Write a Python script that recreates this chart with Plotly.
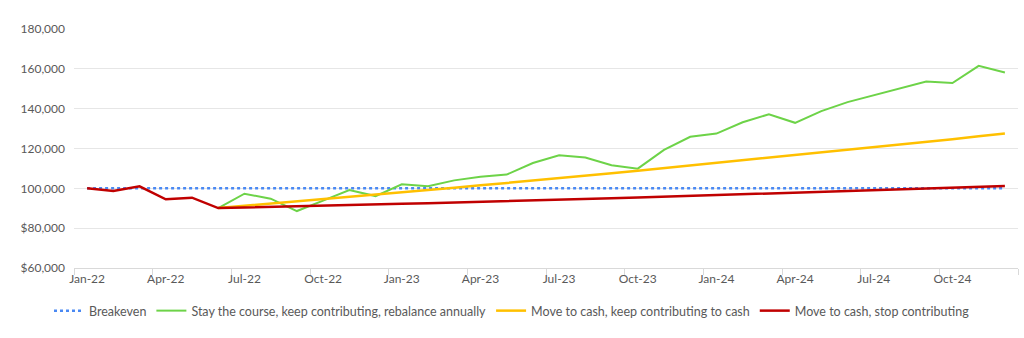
import plotly.graph_objects as go

months = [
    "Jan-22", "Feb-22", "Mar-22", "Apr-22", "May-22", "Jun-22",
    "Jul-22", "Aug-22", "Sep-22", "Oct-22", "Nov-22", "Dec-22",
    "Jan-23", "Feb-23", "Mar-23", "Apr-23", "May-23", "Jun-23",
    "Jul-23", "Aug-23", "Sep-23", "Oct-23", "Nov-23", "Dec-23",
    "Jan-24", "Feb-24", "Mar-24", "Apr-24", "May-24", "Jun-24",
    "Jul-24", "Aug-24", "Sep-24", "Oct-24", "Nov-24", "Dec-24",
]

breakeven = [
    100000, 100000, 100000, 100000, 100000, 100000,
    100000, 100000, 100000, 100000, 100000, 100000,
    100000, 100000, 100000, 100000, 100000, 100000,
    100000, 100000, 100000, 100000, 100000, 100000,
    100000, 100000, 100000, 100000, 100000, 100000,
    100000, 100000, 100000, 100000, 100000, 100000,
]

# From Jun-22 onwards
stay_course = [
    90100, 97300, 94800, 88600, 93800, 99100, 96100,
    102000, 101000, 104000, 105800, 106900, 112700,
    116600, 115500, 111600, 109900, 119300, 125900,
    127500, 133200, 137200, 132900, 138800, 143300,
    146700, 150100, 153600, 152900, 161500, 158200,
]

cash_keep = [
    90100, 91200, 92300, 93400, 94500, 95650, 96800,
    97950, 99100, 100300, 101500, 102650, 103900,
    105100, 106300, 107550, 108800, 110100, 111350,
    112650, 113950, 115250, 116550, 117900, 119250,
    120600, 121950, 123300, 124700, 126100, 127500,
]

# Full period Jan-22 to Dec-24
cash_stop = [
    100000, 98700, 101000, 94500, 95300,
    90100, 90400, 90650, 90950, 91250, 91550, 91900,
    92200, 92550, 92850, 93200, 93550, 93900,
    94250, 94600, 95000, 95350, 95750, 96100,
    96500, 96900, 97300, 97700, 98150, 98550,
    99000, 99400, 99850, 100300, 100750, 101200,
]

y_ticks = [60000, 80000, 100000, 120000, 140000, 160000, 180000]
y_tick_text = ["$60,000", "$80,000", "100,000", "120,000", "140,000", "160,000", "180,000"]

start_idx = months.index("Jun-22")

fig = go.Figure()
fig.add_trace(go.Scatter(
    x=months, y=breakeven, mode="lines", name="Breakeven",
    line=dict(color="#4a89f3", width=2.5, dash="dot"),
))
fig.add_trace(go.Scatter(
    x=months[start_idx:], y=stay_course, mode="lines",
    name="Stay the course, keep contributing, rebalance annually",
    line=dict(color="#6dd348", width=2),
))
fig.add_trace(go.Scatter(
    x=months[start_idx:], y=cash_keep, mode="lines",
    name="Move to cash, keep contributing to cash",
    line=dict(color="#ffc000", width=2.5),
))
fig.add_trace(go.Scatter(
    x=months, y=cash_stop, mode="lines",
    name="Move to cash, stop contributing",
    line=dict(color="#c00000", width=2.5),
))

fig.update_layout(
    width=1024, height=338,
    margin=dict(l=74, r=6, t=29, b=70),
    paper_bgcolor="white", plot_bgcolor="white",
    font=dict(family="Lato", size=12, color="#595959"),
    showlegend=True,
    legend=dict(
        orientation="h", xref="container", x=0.5, xanchor="center",
        yref="container", y=27 / 338, yanchor="middle",
        font=dict(size=12.5, color="#595959"),
        itemwidth=30, tracegroupgap=0,
    ),
)
fig.update_xaxes(
    type="category", categoryorder="array", categoryarray=months,
    range=[-0.5, len(months) - 0.5],
    tickmode="linear", tick0=0, dtick=3, tickangle=0,
    tickson="boundaries", ticks="outside", ticklen=6,
    tickcolor="#d9d9d9", showgrid=False,
    showline=True, linecolor="#d9d9d9", linewidth=1,
    tickfont=dict(size=12, color="#595959"),
    fixedrange=True,
)
fig.update_yaxes(
    range=[60000, 180000],
    tickmode="array", tickvals=y_ticks, ticktext=y_tick_text,
    showgrid=True, gridcolor="#e6e6e6", gridwidth=1,
    zeroline=False, showline=False,
    ticklabelstandoff=8,
    tickfont=dict(size=12, color="#595959"),
    fixedrange=True,
)

fig.write_html("out.html")
